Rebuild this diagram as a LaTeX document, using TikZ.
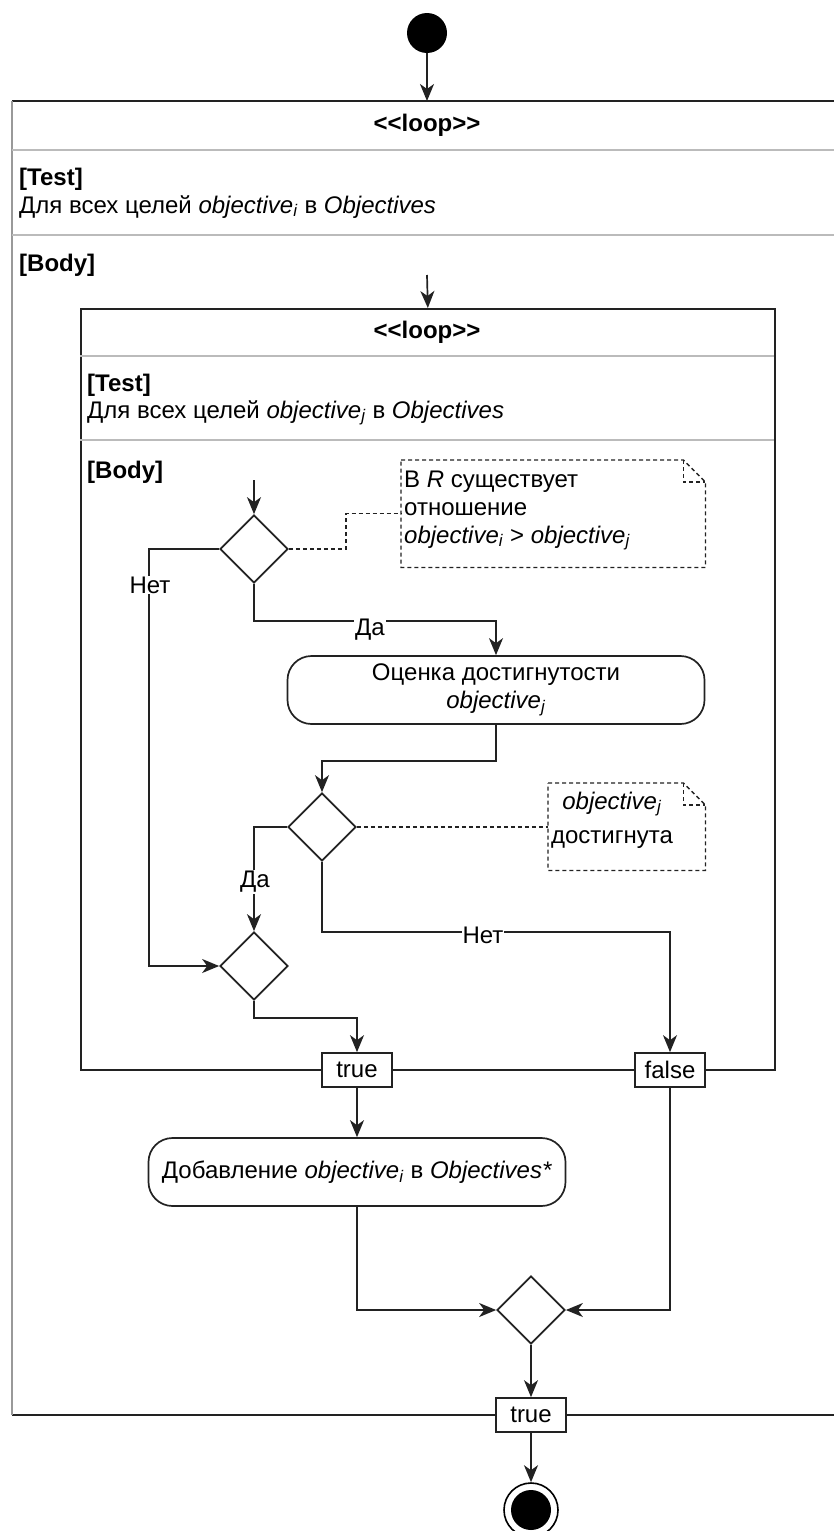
\documentclass[tikz,border=0pt]{standalone}
\usepackage{fontspec}
\setmainfont{Liberation Sans}
\usetikzlibrary{arrows.meta,shapes.geometric}
\definecolor{lc}{HTML}{222222}
\definecolor{sepc}{HTML}{BBBBBB}
\definecolor{edgec}{HTML}{999999}
\newcommand{\obj}[1]{\textit{objective}\textsubscript{\textit{#1}}}
\begin{document}
\begin{tikzpicture}[x=1pt,y=-1pt,
  every node/.style={font=\fontsize{24}{29}\selectfont},
  ln/.style={draw=lc, line width=1.7pt},
  arr/.style={ln, -{Stealth[length=17pt,width=14pt,inset=5pt]}},
  dec/.style={ln, shape=diamond, minimum width=68pt, minimum height=68pt, inner sep=0pt, fill=white},
  act/.style={ln, rectangle, rounded corners=24pt, minimum width=417pt, minimum height=68pt, align=center, fill=white, inner sep=2pt},
  pin/.style={ln, rectangle, minimum width=70pt, minimum height=34pt, inner sep=0pt, fill=white},
  lab/.style={fill=white, inner sep=1pt},
  txt/.style={anchor=base west, inner sep=0pt},
  ctxt/.style={anchor=base, inner sep=0pt},
  nd/.style={draw=lc, line width=1.3pt, dash pattern=on 4pt off 3pt},
  sepl/.style={draw=sepc, line width=1.5pt},
]
\useasboundingbox (0,0) rectangle (833,1531);

% ---------- outer loop frame ----------
\draw[ln] (12,101) -- (860,101);
\draw[ln] (12,1415) -- (860,1415);
\draw[draw=edgec, line width=1.5pt] (12,101) -- (12,1415);
\draw[sepl] (12,150) -- (860,150);
\draw[sepl] (12,235) -- (860,235);
\coordinate (otop) at (427,101);
\node[anchor=center, inner sep=0pt] (oloop) at (427,125) {\textbf{<\kern0pt<loop>\kern0pt>}};
\node[txt] (otest) at (19,185) {\textbf{[Test]}};
\node[txt] (otestx) at (19,213) {Для всех целей \obj{i} в \textit{Objectives}};
\node[txt] (obody) at (19,271) {\textbf{[Body]}};

% ---------- inner loop frame ----------
\node[ln, rectangle, minimum width=694pt, minimum height=761pt, anchor=north west, inner sep=0pt] (inner) at (80,308) {};
\draw[sepl] (80,356) -- (774,356);
\draw[sepl] (80,440) -- (774,440);
\node[anchor=center, inner sep=0pt] (iloop) at (427,332) {\textbf{<\kern0pt<loop>\kern0pt>}};
\node[txt] (itest) at (87,391) {\textbf{[Test]}};
\node[txt] (itestx) at (87,418) {Для всех целей \obj{j} в \textit{Objectives}};
\node[txt] (ibody) at (87,478) {\textbf{[Body]}};

% ---------- nodes ----------
\node[circle, fill=black, minimum size=40pt, inner sep=0pt] (start) at (427,33) {};
\coordinate (b1) at (427,275);
\coordinate (b2) at (254,480);
\node[dec] (d1) at (254,549) {};
\node[act] (act1) at (496,690) {Оценка достигнутости\\[-1pt] \obj{j}};
\node[dec] (d2) at (322,827) {};
\node[dec] (d3) at (254,966) {};
\node[pin] (pt) at (357,1070) {true};
\node[pin] (pf) at (670,1070) {false};
\node[act] (act2) at (357,1172) {Добавление \obj{i} в \textit{Objectives*}};
\node[dec] (d4) at (531,1310) {};
\node[pin] (pt2) at (531,1415) {true};
\node[circle, draw=black, line width=1.6pt, minimum size=54pt, inner sep=0pt] (endo) at (531,1510) {};
\node[circle, fill=black, minimum size=40pt, inner sep=0pt] (endi) at (531,1510) {};

% ---------- notes ----------
\node[inner sep=0pt, minimum width=304pt, minimum height=107pt, anchor=north west] (n1) at (401,460) {};
\draw[nd] (n1.north west) -- ([xshift=-22pt]n1.north east) -- ([yshift=-22pt]n1.north east) -- (n1.south east) -- (n1.south west) -- cycle;
\draw[nd] ([xshift=-22pt]n1.north east) -- ([xshift=-22pt,yshift=-22pt]n1.north east) -- ([yshift=-22pt]n1.north east);
\node[txt] (n1a) at (404,487) {В \textit{R} существует};
\node[txt] (n1b) at (404,515) {отношение};
\node[txt] (n1c) at (404,543) {\obj{i} > \obj{j}};

\node[inner sep=0pt, minimum width=157pt, minimum height=87pt, anchor=north west] (n2) at (548,783) {};
\draw[nd] (n2.north west) -- ([xshift=-22pt]n2.north east) -- ([yshift=-22pt]n2.north east) -- (n2.south east) -- (n2.south west) -- cycle;
\draw[nd] ([xshift=-22pt]n2.north east) -- ([xshift=-22pt,yshift=-22pt]n2.north east) -- ([yshift=-22pt]n2.north east);
\node[ctxt] (n2a) at (612,809) {\obj{j}};
\node[ctxt] (n2b) at (612,843) {достигнута};

% ---------- connectors ----------
\draw[arr] (start) -- (otop);
\draw[arr] (b1) -- (inner.north);
\draw[arr] (b2) -- (d1.north);
\draw[nd] (d1.east) -- ++(57,0) |- (n1.west);
\draw[arr] (d1.west) -- ++(-70,0) |- (d3.west);
\draw[arr] (d1.south) -- ++(0,37) -| (act1.north);
\draw[arr] (act1.south) -- ++(0,36) -| (d2.north);
\draw[nd] (d2.east) -- (d2.east -| n2.west);
\draw[arr] (d2.west) -| (d3.north);
\draw[arr] (d2.south) -- ++(0,70) -| (pf.north);
\draw[arr] (d3.south) -- ++(0,17) -| (pt.north);
\draw[arr] (pt.south) -- (act2.north);
\draw[arr] (act2.south) |- (d4.west);
\draw[arr] (pf.south) |- (d4.east);
\draw[arr] (d4.south) -- (pt2.north);
\draw[arr] (pt2.south) -- (endo.north);

% ---------- labels ----------
\node[lab] (l1) at (150,585) {Нет};
\node[lab] (l2) at (370,630) {Да};
\node[lab] (l3) at (255,882) {Да};
\node[lab] (l4) at (483,935) {Нет};
\end{tikzpicture}
\end{document}
